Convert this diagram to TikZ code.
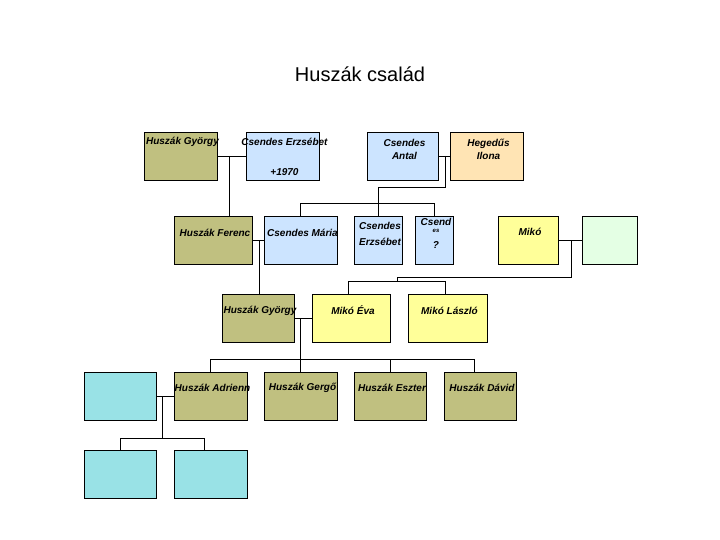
\documentclass[tikz,border=0pt]{standalone}
\usepackage{fontspec}
\setmainfont{Liberation Sans}
\definecolor{olivebox}{RGB}{192,192,128}
\definecolor{bluebox}{RGB}{204,228,255}
\definecolor{peachbox}{RGB}{255,228,180}
\definecolor{yellowbox}{RGB}{255,255,153}
\definecolor{greenbox}{RGB}{228,255,228}
\definecolor{cyanbox}{RGB}{153,226,230}

\begin{document}
\begin{tikzpicture}[x=1pt, y=-1pt, line width=0.8pt,
  person/.style={draw, line width=0.8pt, minimum width=72pt, minimum height=48pt, inner sep=0pt},
  who/.style={font=\fontsize{10}{13}\selectfont\bfseries\itshape, inner sep=0pt, align=center, xshift=2pt}]
\useasboundingbox (0,0) rectangle (720,540);
% ---------- title ----------
\node[font=\fontsize{20}{24}\selectfont] (title) at (360,74) {Huszák család};
% ---------- generation 1 ----------
\node[person, fill=olivebox, minimum width=73pt] (gyA) at (180.5,156) {};
\node[person, fill=bluebox, minimum width=73pt] (erzsA) at (282.5,156) {};
\node[person, fill=bluebox, minimum width=71pt] (antal) at (402.5,156) {};
\node[person, fill=peachbox, minimum width=73pt] (ilona) at (486.5,156) {};
\node[who] (gyA-t) at ([yshift=-10]gyA.north) {Huszák György};
\node[who] (erzsA-t) at ([yshift=-10]erzsA.north) {Csendes Erzsébet};
\node[who] (erzsA-d) at ([yshift=-40]erzsA.north) {+1970};
\node[who] (antal-t) at ([yshift=-17.5]antal.north) {Csendes\\Antal};
\node[who] (ilona-t) at ([yshift=-17.5]ilona.north) {Hegedűs\\Ilona};
% ---------- generation 2 ----------
\node[person, fill=olivebox, minimum width=78pt] (ferenc) at (213,240) {};
\node[person, fill=bluebox, minimum width=73pt] (maria) at (300.5,240) {};
\node[person, fill=bluebox, minimum width=48pt] (erzsB) at (378,240) {};
\node[person, fill=bluebox, minimum width=38pt] (csq) at (434,240) {};
\node[person, fill=yellowbox, minimum width=60pt] (miko) at (528,240) {};
\node[person, fill=greenbox, minimum width=55pt] (mikoW) at (609.5,240) {};
\node[who] (ferenc-t) at ([yshift=-17]ferenc.north) {Huszák Ferenc};
\node[who] (maria-t) at ([yshift=-17]maria.north) {Csendes Mária};
\node[who] (erzsB-t) at ([yshift=-18]erzsB.north) {Csendes\\[3pt]Erzsébet};
\node[who] (csq-t) at ([yshift=-18]csq.north) {Csend\\[-6pt]{\fontsize{6}{6}\selectfont es}\\[3pt]?};
\node[who] (miko-t) at ([yshift=-16]miko.north) {Mikó};
% ---------- generation 3 ----------
\node[person, fill=olivebox] (gyB) at (258,318) {};
\node[person, fill=yellowbox, minimum width=78pt] (eva) at (351,318) {};
\node[person, fill=yellowbox, minimum width=79pt] (laszlo) at (447.5,318) {};
\node[who] (gyB-t) at ([yshift=-17]gyB.north) {Huszák György};
\node[who] (eva-t) at ([yshift=-17]eva.north) {Mikó Éva};
\node[who] (laszlo-t) at ([yshift=-17]laszlo.north) {Mikó László};
% ---------- generation 4 ----------
\node[person, fill=cyanbox] (c1) at (120,396) {};
\node[person, fill=olivebox, minimum width=73pt] (adrienn) at (210.5,396) {};
\node[person, fill=olivebox, minimum width=73pt] (gergo) at (300.5,396) {};
\node[person, fill=olivebox] (eszter) at (390,396) {};
\node[person, fill=olivebox] (david) at (480,396) {};
\node[who] (adrienn-t) at ([yshift=-16]adrienn.north) {Huszák Adrienn};
\node[who] (gergo-t) at ([yshift=-16]gergo.north) {Huszák Gergő};
\node[who] (eszter-t) at ([yshift=-16]eszter.north) {Huszák Eszter};
\node[who] (david-t) at ([yshift=-16]david.north) {Huszák Dávid};
% ---------- generation 5 ----------
\node[person, fill=cyanbox] (c2) at (120,474) {};
\node[person, fill=cyanbox, minimum width=73pt] (c3) at (210.5,474) {};
% ---------- marriages and descent ----------
\draw (gyA) -- (erzsA);
\coordinate (m1) at (229,156);
\draw (m1) -- (m1 |- ferenc.north);
\draw (antal) -- (ilona);
\coordinate (m2) at (445,156);
\coordinate (k2) at (445,187);
\draw (m2) -- (k2) -| (erzsB.north);
\draw (maria.north) -- ++(0,-12) -| (csq.north);
\draw (ferenc) -- (maria);
\coordinate (m3) at (259,240);
\draw (m3) -- (m3 |- gyB.north);
\draw (miko) -- (mikoW);
\coordinate (m4) at (571,240);
\coordinate (k4) at (397,277);
\draw (m4) |- (k4) -- ++(0,5);
\draw ([xshift=-3]eva.north) -- ++(0,-12) -| ([xshift=-2.5]laszlo.north);
\draw (gyB) -- (eva);
\coordinate (m5) at (300,318);
\draw (m5) -- (m5 |- gergo.north);
\draw (adrienn.north) -- ++(0,-12) -| ([xshift=-6]david.north);
\draw (eszter.north) -- ++(0,-12);
\draw (c1) -- (adrienn);
\coordinate (m6) at (162,396);
\coordinate (k6) at (162,439);
\draw (m6) -- (k6);
\draw (c2.north) -- ++(0,-11) -| ([xshift=-6]c3.north);
\end{tikzpicture}
\end{document}
